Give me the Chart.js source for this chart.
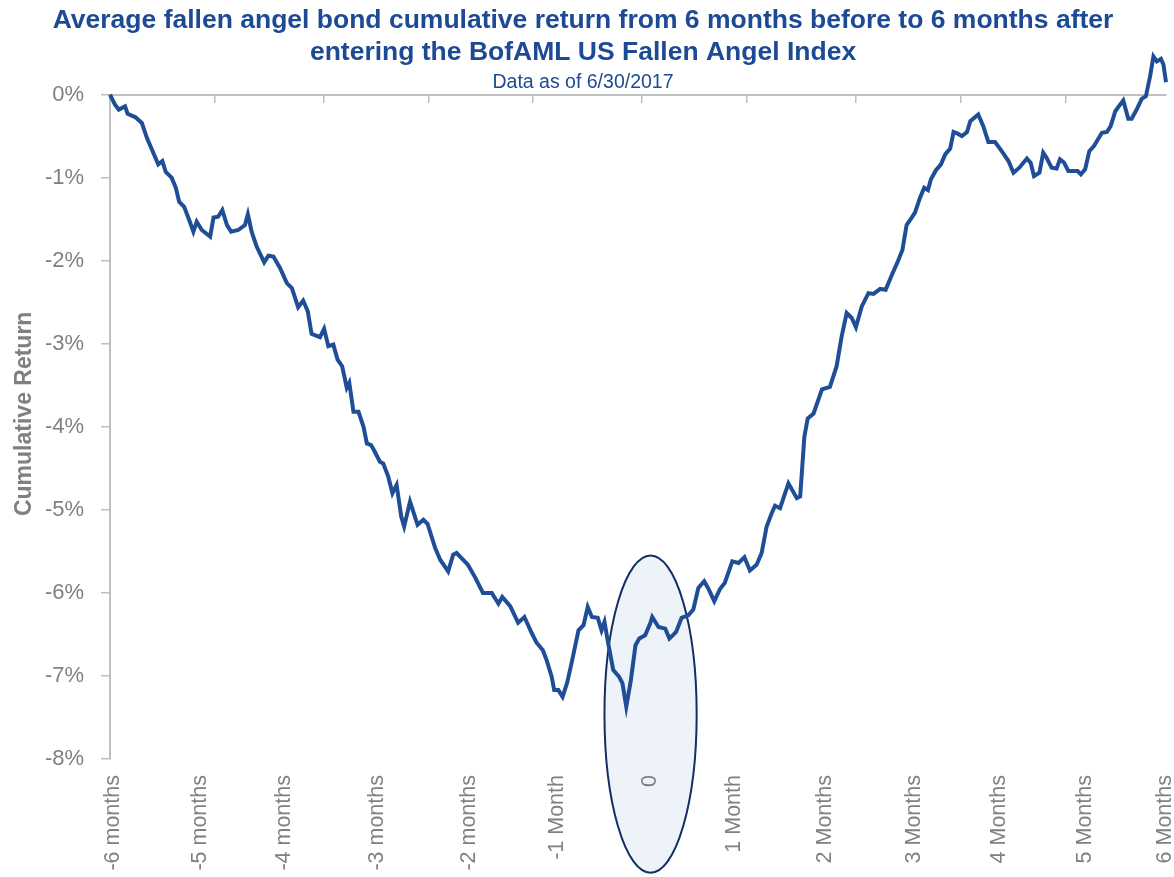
<!DOCTYPE html>
<html><head><meta charset="utf-8">
<script src="https://cdn.jsdelivr.net/npm/chart.js@4.4.1/dist/chart.umd.min.js"></script>
<style>html,body{margin:0;padding:0;background:#fff;}</style>
</head><body>
<canvas id="c" width="1174" height="877"></canvas>
<script>
// ---- text ----
const titleLines = ['Average fallen angel bond cumulative return from 6 months before to 6 months after',
                    'entering the BofAML US Fallen Angel Index'];
const subtitleText = 'Data as of 6/30/2017';
const yAxisTitle = 'Cumulative Return';

// ---- data: trading-day offset from 6 months before (0) to 6 months after (252), cumulative return in % ----
const days = [0,1.2,2.1,3.6,4.2,6.0,7.6,8.8,10.0,11.5,12.5,13.3,14.7,15.7,16.5,17.7,18.9,19.9,20.7,21.9,
  23.9,24.7,25.8,26.8,27.9,28.9,30.6,32.2,32.9,33.8,35.0,36.8,37.8,39.0,40.6,42.2,43.4,44.9,46.1,47.2,
  48.1,50.1,51.1,52.1,53.3,54.3,55.4,56.5,57.1,58.1,59.3,60.5,61.3,62.3,63.2,64.4,65.2,66.4,67.4,68.4,
  69.5,70.2,71.6,73.4,74.8,75.8,77.6,78.8,80.7,81.9,82.7,85.4,87.1,89.0,91.1,92.7,93.6,95.5,97.4,98.9,
  100.6,101.8,103.3,104.2,105.4,106.0,107.0,108.0,109.1,110.3,111.8,113.0,114.0,115.0,116.4,117.3,118.0,118.9,120.1,121.5,
  122.3,123.2,124.3,125.4,126.3,127.7,128.9,129.4,130.9,132.5,133.5,135.1,136.4,138.0,139.2,140.4,141.8,142.8,144.2,145.6,
  146.7,148.5,150.0,151.4,152.7,154.3,155.5,156.7,157.9,158.7,159.9,161.9,163.9,164.7,165.7,166.5,167.9,169.9,171.8,173.4,
  174.6,175.8,177.0,178.0,179.4,181.0,182.2,183.8,185.1,186.6,188.0,189.1,190.1,191.2,192.1,193.3,194.3,195.2,195.9,197.1,
  198.3,199.3,200.5,201.3,202.3,203.3,204.5,205.3,207.2,208.4,209.6,211.2,212.8,214.4,215.6,217.0,218.8,219.7,220.5,221.8,
  222.7,223.5,224.7,225.9,226.7,227.7,228.7,229.9,230.9,231.7,232.7,233.7,234.8,236.7,237.9,238.8,239.9,240.9,241.8,243.0,
  243.8,245.0,246.2,247.2,248.2,249.0,249.8,250.8,251.4,252.0];
const returns = [0.00,-0.12,-0.18,-0.14,-0.23,-0.27,-0.34,-0.52,-0.66,-0.84,-0.80,-0.93,-1.00,-1.12,-1.29,-1.35,-1.51,-1.65,-1.53,-1.63,
  -1.71,-1.48,-1.47,-1.39,-1.57,-1.65,-1.63,-1.57,-1.44,-1.65,-1.83,-2.02,-1.94,-1.95,-2.09,-2.27,-2.33,-2.56,-2.48,-2.61,
  -2.88,-2.92,-2.82,-3.03,-3.01,-3.19,-3.27,-3.53,-3.47,-3.82,-3.82,-4.00,-4.20,-4.22,-4.30,-4.42,-4.44,-4.60,-4.80,-4.70,
  -5.08,-5.20,-4.90,-5.18,-5.12,-5.17,-5.46,-5.60,-5.74,-5.54,-5.52,-5.66,-5.81,-6.00,-6.00,-6.13,-6.05,-6.16,-6.36,-6.29,
  -6.48,-6.60,-6.69,-6.81,-7.01,-7.17,-7.17,-7.25,-7.08,-6.81,-6.45,-6.39,-6.17,-6.29,-6.30,-6.45,-6.35,-6.61,-6.93,-7.01,
  -7.09,-7.37,-7.05,-6.63,-6.55,-6.51,-6.37,-6.29,-6.41,-6.43,-6.55,-6.47,-6.30,-6.27,-6.20,-5.94,-5.86,-5.95,-6.10,-5.95,
  -5.88,-5.62,-5.64,-5.57,-5.73,-5.66,-5.52,-5.20,-5.04,-4.95,-4.98,-4.68,-4.86,-4.84,-4.12,-3.90,-3.84,-3.55,-3.52,-3.27,
  -2.91,-2.63,-2.69,-2.80,-2.55,-2.39,-2.40,-2.34,-2.35,-2.17,-2.01,-1.87,-1.57,-1.49,-1.42,-1.24,-1.12,-1.15,-1.02,-0.91,
  -0.84,-0.72,-0.65,-0.45,-0.47,-0.50,-0.45,-0.32,-0.24,-0.38,-0.57,-0.57,-0.68,-0.80,-0.94,-0.88,-0.77,-0.82,-0.98,-0.94,
  -0.70,-0.76,-0.88,-0.89,-0.78,-0.82,-0.92,-0.92,-0.92,-0.96,-0.90,-0.68,-0.62,-0.46,-0.45,-0.38,-0.20,-0.13,-0.07,-0.29,
  -0.29,-0.18,-0.05,-0.02,0.22,0.46,0.40,0.43,0.36,0.15];

// ---- axes ----
const tickLabels = ['-6 months','-5 months','-4 months','-3 months','-2 months','-1 Month','0',
                    '1 Month','2 Months','3 Months','4 Months','5 Months','6 Months'];
const tickLabelDays = [0.7,21.6,41.6,63.8,85.6,106.6,129,149,170.6,192,212.2,232.7,251.8];
const tickMarkDays = [25,51,76,101,127,152,178,203,228];
const yMin = -8, yMax = 0;

// highlight around entry date (label "0")
const highlight = {day: 129, value: -7.46, halfDays: 11, halfPct: 1.91};

const BLUE = '#1f4e96';
const TITLE_BLUE = '#1d4a94';
const GRAY = '#808080';
const AXIS_GRAY = '#bfbfbf';
const FONT = "'Liberation Sans', Arial, sans-serif";

const bgAndEllipse = {
  id: 'bgAndEllipse',
  beforeDraw(chart) {
    const ctx = chart.ctx;
    ctx.save();
    ctx.fillStyle = '#ffffff';
    ctx.fillRect(0, 0, chart.width, chart.height);
    const xs = chart.scales.x, ys = chart.scales.y;
    const cx = xs.getPixelForValue(highlight.day);
    const cy = ys.getPixelForValue(highlight.value);
    const rx = Math.abs(xs.getPixelForValue(highlight.day + highlight.halfDays) - cx);
    const ry = Math.abs(ys.getPixelForValue(highlight.value + highlight.halfPct) - cy);
    ctx.beginPath();
    ctx.ellipse(cx, cy, rx, ry, 0, 0, Math.PI * 2);
    ctx.fillStyle = '#eef2f9';
    ctx.fill();
    ctx.lineWidth = 2;
    ctx.strokeStyle = '#112f63';
    ctx.stroke();
    ctx.restore();
  },
  afterDraw(chart) {
    // vertical axis title, placed slightly above the middle of the value axis as in the original
    const ctx = chart.ctx, a = chart.chartArea;
    ctx.save();
    ctx.translate(25, (a.top + a.bottom) / 2 - 13);
    ctx.rotate(-Math.PI / 2);
    ctx.font = "bold 23px " + FONT;
    ctx.fillStyle = GRAY;
    ctx.textAlign = 'center';
    ctx.textBaseline = 'middle';
    ctx.fillText(yAxisTitle, 0, 0);
    ctx.restore();
  }
};

new Chart(document.getElementById('c'), {
  type: 'line',
  data: {
    datasets: [{
      data: days.map((d, i) => ({x: d, y: returns[i]})),
      borderColor: BLUE,
      borderWidth: 4,
      pointRadius: 0,
      tension: 0,
      fill: false,
      clip: false
    }]
  },
  options: {
    responsive: false,
    animation: false,
    devicePixelRatio: 1,
    layout: {padding: {left: 0, right: 8, top: 0, bottom: 0}},
    plugins: {
      legend: {display: false},
      tooltip: {enabled: false},
      title: {
        display: true,
        text: titleLines,
        color: TITLE_BLUE,
        font: {family: FONT, size: 26.5, weight: 'bold', lineHeight: 1.21},
        padding: {top: 5, bottom: 0}
      },
      subtitle: {
        display: true,
        text: subtitleText,
        color: TITLE_BLUE,
        font: {family: FONT, size: 19.5, weight: 'normal', lineHeight: 1.0},
        padding: {top: 4, bottom: 2}
      }
    },
    scales: {
      x: {
        type: 'linear',
        position: 'bottom',
        min: 0, max: 252,
        afterBuildTicks: (s) => { s.ticks = tickLabelDays.map(v => ({value: v})); },
        afterFit: (s) => { s.height = 118; s.paddingLeft = 0; s.paddingRight = 0; },
        grid: {display: false},
        border: {display: false},
        ticks: {
          autoSkip: false, minRotation: 90, maxRotation: 90, padding: 8,
          color: GRAY, font: {family: FONT, size: 21.5},
          callback: (v, i) => tickLabels[i]
        }
      },
      xTop: {
        type: 'linear',
        axis: 'x',
        position: {y: 0},
        min: 0, max: 252,
        afterBuildTicks: (s) => { s.ticks = tickMarkDays.map(v => ({value: v})); },
        grid: {display: true, drawOnChartArea: false, drawTicks: true, tickLength: 7, color: AXIS_GRAY, lineWidth: 1.5},
        border: {display: true, color: AXIS_GRAY, width: 2},
        ticks: {display: false}
      },
      y: {
        type: 'linear',
        min: yMin, max: yMax,
        afterFit: (s) => { s.width = 110; },
        ticks: {
          stepSize: 1, color: GRAY, padding: 17,
          font: {family: FONT, size: 22},
          callback: (v) => (v === 0 ? 0 : v) + '%'
        },
        grid: {display: true, drawOnChartArea: false, drawTicks: true, tickLength: 9, color: AXIS_GRAY, lineWidth: 1.5},
        border: {display: true, color: AXIS_GRAY, width: 2},
        title: {display: false}
      }
    }
  },
  plugins: [bgAndEllipse]
});
</script>
</body></html>
